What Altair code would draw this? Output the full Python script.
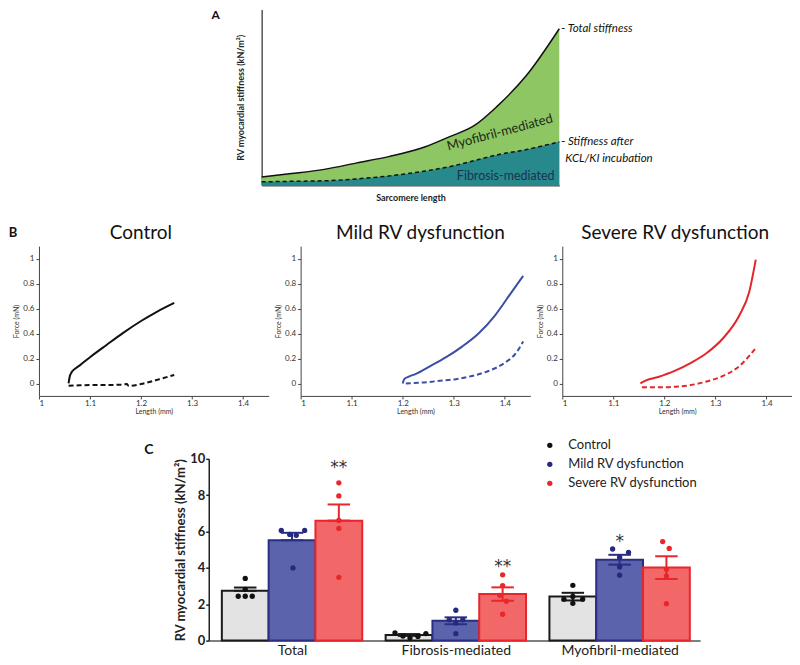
import altair as alt
import pandas as pd

FONT = "Lato"

# ---------------- Panel A (schematic) ----------------
a_length = [0, 10, 21, 32, 43, 55, 63, 71.5, 79, 89, 100]
a_total = [0.047, 0.066, 0.09, 0.127, 0.164, 0.219, 0.275, 0.34, 0.447, 0.625, 0.89]
a_fibrosis = [0.019, 0.022, 0.025, 0.036, 0.053, 0.081, 0.105, 0.14, 0.172, 0.203, 0.247]

# ---------------- Panel B (force-length traces) ----------------
ctrl_len = [1.058, 1.060, 1.064, 1.070, 1.080, 1.100, 1.133, 1.165, 1.200, 1.230, 1.265]
ctrl_force = [0.0, 0.05, 0.09, 0.115, 0.145, 0.21, 0.31, 0.405, 0.5, 0.572, 0.645]
ctrl_len_kcl = [1.058, 1.080, 1.100, 1.130, 1.160, 1.172, 1.176, 1.200, 1.230, 1.265]
ctrl_force_kcl = [-0.018, -0.015, -0.013, -0.013, -0.010, -0.005, -0.020, -0.005, 0.027, 0.068]

mild_len = [1.200, 1.203, 1.212, 1.225, 1.254, 1.285, 1.317, 1.349, 1.381, 1.413, 1.436]
mild_force = [0.0, 0.035, 0.055, 0.075, 0.139, 0.21, 0.297, 0.402, 0.546, 0.73, 0.861]
mild_len_kcl = [1.206, 1.241, 1.273, 1.304, 1.336, 1.368, 1.400, 1.422, 1.436]
mild_force_kcl = [0.0, 0.008, 0.021, 0.034, 0.06, 0.10, 0.165, 0.244, 0.336]

sev_len = [1.153, 1.162, 1.188, 1.220, 1.252, 1.283, 1.315, 1.347, 1.366, 1.379]
sev_force = [0.0, 0.021, 0.052, 0.10, 0.165, 0.244, 0.362, 0.546, 0.73, 0.992]
sev_len_kcl = [1.156, 1.188, 1.220, 1.252, 1.283, 1.315, 1.347, 1.379]
sev_force_kcl = [-0.031, -0.031, -0.026, -0.013, 0.016, 0.06, 0.139, 0.283]

# ---------------- Panel C (bar chart) ----------------
groups = ["Total", "Fibrosis-mediated", "Myofibril-mediated"]
series = ["Control", "Mild RV dysfunction", "Severe RV dysfunction"]
means = [[2.74, 5.52, 6.60], [0.31, 1.09, 2.56], [2.42, 4.45, 4.02]]
err_hi = [[2.92, 5.93, 7.49], [0.36, 1.28, 2.93], [2.63, 4.72, 4.64]]
err_lo = [[2.74, 5.52, 6.60], [0.26, 0.90, 2.19], [2.21, 4.18, 3.39]]
pt_values = [
    [[3.42, 2.82, 2.44, 2.44, 2.44], [6.06, 6.06, 5.84, 5.79, 4.0], [8.68, 7.96, 6.61, 6.17, 3.48]],
    [[0.43, 0.25, 0.14, 0.23, 0.39], [1.67, 1.15, 1.15, 0.97, 0.38], [3.62, 3.03, 2.49, 2.17, 1.45]],
    [[3.04, 2.43, 2.28, 2.28, 2.05], [5.04, 4.86, 4.59, 4.05, 3.6], [5.45, 5.07, 3.92, 3.55, 2.03]],
]
pt_jitter = [
    [[0, 0, -0.15, 0, 0.15], [-0.23, 0.27, -0.05, 0.09, 0.02], [0, 0, 0, 0, 0]],
    [[-0.3, -0.13, 0.02, 0.19, 0.36], [0, -0.14, 0.15, 0, 0], [0, 0, -0.06, 0.08, 0]],
    [[0, 0, -0.19, 0.21, 0], [-0.15, 0.19, 0, 0, 0], [-0.08, 0.06, 0, 0, 0]],
]
stars = [("Total", "Severe RV dysfunction", "**", 9.75),
         ("Fibrosis-mediated", "Severe RV dysfunction", "**", 4.3),
         ("Myofibril-mediated", "Mild RV dysfunction", "*", 5.7)]

fills = ["#e3e3e3", "#5c63ad", "#f26869"]
strokes = ["#1a1a1a", "#2b2e83", "#e8262b"]
dots = ["#111111", "#262a7f", "#e8262b"]


def spacer(w):
    return alt.Chart(pd.DataFrame({"v": [0]})).mark_point(opacity=0).encode(
        x=alt.X("v:Q", axis=None), y=alt.Y("v:Q", axis=None)
    ).properties(width=w, height=4)


# ---------- Panel A ----------
dfa = pd.DataFrame({"len": a_length, "total": a_total, "fib": a_fibrosis})
endA = pd.DataFrame({"len": [a_length[-1]], "total": [a_total[-1]], "fib": [a_fibrosis[-1]]})
xA = dict(scale=alt.Scale(domain=[0, 100], nice=False, zero=False),
          axis=alt.Axis(title="Sarcomere length", ticks=False, labels=False, grid=False,
                        domainColor="#555", domainWidth=1.5, titleFontSize=9, titleFontWeight="bold",
                        titlePadding=8, titleColor="#222"))
yA = dict(scale=alt.Scale(domain=[0, 1], nice=False),
          axis=alt.Axis(title="RV myocardial stiffness  (kN/m²)", ticks=False, labels=False, grid=False,
                        domainColor="#555", domainWidth=1.5, titleFontSize=9, titleFontWeight="bold",
                        titlePadding=16, titleColor="#222"))
baseA = alt.Chart(dfa)
areaGreen = baseA.mark_area(color="#8dc663", interpolate="monotone").encode(
    x=alt.X("len:Q", **xA), y=alt.Y("total:Q", **yA))
areaTeal = baseA.mark_area(color="#27898c", interpolate="monotone").encode(
    x=alt.X("len:Q", **xA), y=alt.Y("fib:Q", **yA))
lineTotal = baseA.mark_line(color="#111", strokeWidth=1.5, interpolate="monotone").encode(
    x=alt.X("len:Q", **xA), y=alt.Y("total:Q", **yA))
lineFib = baseA.mark_line(color="#111", strokeWidth=1.5, strokeDash=[4, 3], interpolate="monotone").encode(
    x=alt.X("len:Q", **xA), y=alt.Y("fib:Q", **yA))
tTotal = alt.Chart(endA).mark_text(text="- Total stiffness", align="left", baseline="middle", dx=2,
                                   fontStyle="italic", fontSize=11.5, color="#111").encode(
    x=alt.X("len:Q", **xA), y=alt.Y("total:Q", **yA))
tFib1 = alt.Chart(endA).mark_text(text="- Stiffness after", align="left", baseline="middle", dx=2,
                                  fontStyle="italic", fontSize=11.5, color="#111").encode(
    x=alt.X("len:Q", **xA), y=alt.Y("fib:Q", **yA))
tFib2 = alt.Chart(endA).mark_text(text="KCL/KI incubation", align="left", baseline="middle", dx=6, dy=17,
                                  fontStyle="italic", fontSize=11.5, color="#111").encode(
    x=alt.X("len:Q", **xA), y=alt.Y("fib:Q", **yA))
tMyo = alt.Chart(endA).mark_text(text="Myofibril-mediated", angle=345, fontSize=13, color="#1c2a18").encode(
    x=alt.datum(80), y=alt.datum(0.3))
tFibIn = alt.Chart(endA).mark_text(text="Fibrosis-mediated", fontSize=12.5, color="#1b3350").encode(
    x=alt.datum(82), y=alt.datum(0.053))
letterA = alt.Chart(endA).mark_text(text="A", fontSize=12, fontWeight="bold", color="#111").encode(
    x=alt.value(-46), y=alt.value(6))
chartA = alt.layer(areaGreen, areaTeal, lineTotal, lineFib, tTotal, tFib1, tFib2, tMyo, tFibIn, letterA
                   ).properties(width=298, height=176)

# ---------- Panel B ----------
B_W, B_H = 230, 150


def force_panel(title, color, ls, fs, lk, fk, letter=None, tdx=0):
    df = pd.concat([
        pd.DataFrame({"len": ls, "force": fs, "kind": "total", "i": list(range(len(ls)))}),
        pd.DataFrame({"len": lk, "force": fk, "kind": "kcl", "i": list(range(len(lk)))}),
    ])
    ax_common = dict(grid=False, domainColor="#444", tickColor="#444", tickSize=3, labelFontSize=8,
                     labelColor="#333", titleFontSize=7, titleFontWeight="normal", titleColor="#333",
                     format=".1~f")
    x = alt.X("len:Q", scale=alt.Scale(domain=[1, 1.45], nice=False, zero=False),
              axis=alt.Axis(values=[1, 1.1, 1.2, 1.3, 1.4], title="Length (mm)", titlePadding=0,
                            labelPadding=1, **ax_common))
    y = alt.Y("force:Q", scale=alt.Scale(domain=[-0.1, 1.1], nice=False, zero=False),
              axis=alt.Axis(values=[0, 0.2, 0.4, 0.6, 0.8, 1], title="Force (mN)", titlePadding=3, **ax_common))
    base = alt.Chart(df)
    solid = base.transform_filter("datum.kind == 'total'").mark_line(
        color=color, strokeWidth=2, interpolate="monotone").encode(x=x, y=y, order="i:Q")
    dashed = base.transform_filter("datum.kind == 'kcl'").mark_line(
        color=color, strokeWidth=2, strokeDash=[5, 3], interpolate="monotone").encode(x=x, y=y, order="i:Q")
    ttl = alt.Chart(pd.DataFrame({"t": [title]})).mark_text(
        fontSize=19, color="#111", baseline="middle").encode(
        text="t:N", x=alt.value(B_W / 2 + tdx), y=alt.value(-13))
    layers = [solid, dashed, ttl]
    if letter:
        layers.append(alt.Chart(pd.DataFrame({"t": [letter]})).mark_text(
            fontSize=13, fontWeight="bold", color="#111").encode(
            text="t:N", x=alt.value(-26), y=alt.value(-13)))
    return alt.layer(*layers).properties(width=B_W, height=B_H)


c1 = force_panel("Control", "#111111", ctrl_len, ctrl_force, ctrl_len_kcl, ctrl_force_kcl, letter="B", tdx=-13)
c2 = force_panel("Mild RV dysfunction", "#3b4ea6", mild_len, mild_force, mild_len_kcl, mild_force_kcl, tdx=5)
c3 = force_panel("Severe RV dysfunction", "#e3262b", sev_len, sev_force, sev_len_kcl, sev_force_kcl, tdx=-2)

# ---------- Panel C ----------
STEP = 3.5
bar_rows, pt_rows = [], []
for gi, g in enumerate(groups):
    for si, s in enumerate(series):
        slot = gi * STEP + si
        bar_rows.append(dict(group=g, series=s, slot=slot, mean=means[gi][si],
                             hi=err_hi[gi][si], lo=err_lo[gi][si]))
        for v, j in zip(pt_values[gi][si], pt_jitter[gi][si]):
            pt_rows.append(dict(group=g, series=s, px=slot + j, val=v))
dfb = pd.DataFrame(bar_rows)
dfp = pd.DataFrame(pt_rows)
dfs = pd.DataFrame([dict(slot=groups.index(g) * STEP + series.index(s), txt=t, y=v) for g, s, t, v in stars])

tick_vals = [gi * STEP + 1 for gi in range(len(groups))]
label_expr = " : ".join(
    f"datum.value < {tv + 1.75} ? '{g}'" for tv, g in zip(tick_vals[:-1], groups[:-1])) + f" : '{groups[-1]}'"

xsC = alt.Scale(domain=[-0.78, 9.72], nice=False, zero=False)
xaxC = alt.Axis(values=tick_vals, labelExpr=label_expr, ticks=False, grid=False, title=None,
                labelFontSize=14, labelColor="#222", labelPadding=3, domainColor="#555",
                domainWidth=1.5, labelAngle=0)
ysC = alt.Scale(domain=[0, 10], nice=False)
yaxC = alt.Axis(values=[0, 2, 4, 6, 8, 10], format="d", labelFontSize=13, labelFontWeight="bold",
                labelColor="#222", tickSize=3, tickWidth=1.5, tickColor="#222", domainColor="#222",
                domainWidth=1.5, labelPadding=1, title="RV myocardial stiffness  (kN/m²)",
                titleFontSize=13, titleFontWeight="bold", titleColor="#222", titlePadding=2, grid=False)

layersC = []
for si, s in enumerate(series):
    sub = alt.Chart(dfb).transform_filter(alt.datum.series == s)
    layersC.append(sub.transform_calculate(x0="datum.slot - 0.5", x1="datum.slot + 0.5").mark_bar(
        fill=fills[si], stroke=strokes[si], strokeWidth=2).encode(
        x=alt.X("x0:Q", scale=xsC, axis=xaxC), x2="x1:Q",
        y=alt.Y("mean:Q", scale=ysC, axis=yaxC), y2=alt.datum(0)))
for si, s in enumerate(series):
    sub = alt.Chart(dfb).transform_filter(alt.datum.series == s)
    layersC.append(sub.mark_rule(color=strokes[si], strokeWidth=2).encode(
        x=alt.X("slot:Q", scale=xsC, axis=xaxC), y=alt.Y("lo:Q", scale=ysC, axis=yaxC), y2="hi:Q"))
    for end in ["hi", "lo"]:
        layersC.append(sub.transform_calculate(c0="datum.slot - 0.24", c1="datum.slot + 0.24").mark_rule(
            color=strokes[si], strokeWidth=2).encode(
            x=alt.X("c0:Q", scale=xsC, axis=xaxC), x2="c1:Q", y=alt.Y(f"{end}:Q", scale=ysC, axis=yaxC)))
pts = alt.Chart(dfp).mark_circle(size=28, opacity=1).encode(
    x=alt.X("px:Q", scale=xsC, axis=xaxC), y=alt.Y("val:Q", scale=ysC, axis=yaxC),
    color=alt.Color("series:N", scale=alt.Scale(domain=series, range=dots),
                    legend=alt.Legend(title=None, orient="none", legendX=335, legendY=-20,
                                      labelFontSize=13, labelColor="#222", labelFont=FONT,
                                      symbolType="circle", symbolSize=28, rowPadding=5,
                                      labelOffset=12, padding=0)))
starTxt = alt.Chart(dfs).mark_text(fontSize=17, color="#333", baseline="middle", dy=5,
                                   font="DejaVu Sans").encode(
    x=alt.X("slot:Q", scale=xsC, axis=xaxC), y=alt.Y("y:Q", scale=ysC, axis=yaxC), text="txt:N")
letterC = alt.Chart(pd.DataFrame({"t": ["C"]})).mark_text(
    fontSize=14, fontWeight="bold", color="#111").encode(text="t:N", x=alt.value(-60), y=alt.value(-9))
chartC = alt.layer(*layersC, pts, starTxt, letterC).properties(width=492, height=182)

rowA = alt.hconcat(spacer(172), chartA, spacing=0)
rowB = alt.hconcat(c1, c2, c3, spacing=5)
rowC = alt.hconcat(spacer(105), chartC, spacing=0).resolve_legend(color="independent")
top = alt.vconcat(rowA, rowB, spacing=22)
chart = alt.vconcat(top, rowC, spacing=24).resolve_legend(color="independent").properties(
    padding=0).configure(font=FONT).configure_view(stroke=None)

chart.save("out.html", embed_options={"renderer": "svg", "actions": False})
